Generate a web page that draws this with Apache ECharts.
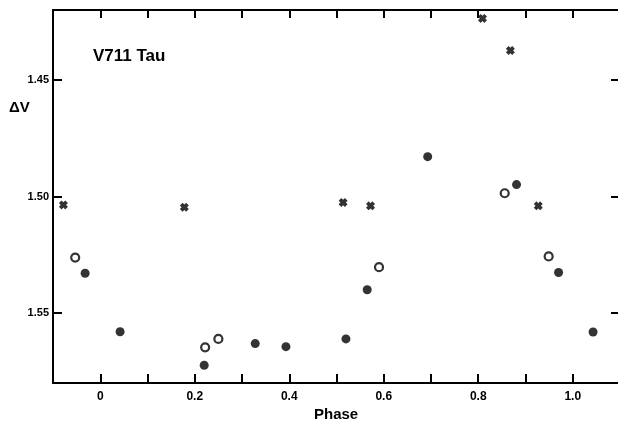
<!DOCTYPE html>
<html>
<head>
<meta charset="utf-8">
<script src="https://cdn.jsdelivr.net/npm/echarts@6/dist/echarts.min.js"></script>
<style>
html,body{margin:0;padding:0;background:#fff;overflow:hidden;}
#c{width:621px;height:427px;}
</style>
</head>
<body>
<div id="c"></div>
<script>
// Data (phase, ΔV)
var crossPhase  = [-0.078, 0.178, 0.514, 0.572, 0.809, 0.868, 0.927];
var crossDV     = [1.5036, 1.5046, 1.5026, 1.5040, 1.4236, 1.4374, 1.5040];
var openPhase   = [-0.053, 0.222, 0.250, 0.590, 0.856, 0.949];
var openDV      = [1.5262, 1.5647, 1.5611, 1.5303, 1.4986, 1.5257];
var filledPhase = [-0.032, 0.042, 0.220, 0.328, 0.393, 0.520, 0.565, 0.693, 0.881, 0.970, 1.043];
var filledDV    = [1.5329, 1.5580, 1.5724, 1.5631, 1.5644, 1.5611, 1.5400, 1.4829, 1.4949, 1.5326, 1.5581];
var xTickValues  = [0, 0.1, 0.2, 0.3, 0.4, 0.5, 0.6, 0.7, 0.8, 0.9, 1.0];
var xLabelValues = [0, 0.2, 0.4, 0.6, 0.8, 1.0];
var yTickValues  = [1.45, 1.50, 1.55];

function pairs(xs, ys){ return xs.map(function(x,i){ return [x, ys[i]]; }); }

var crossPath = 'path://M0,3L3,0L5,2L7,0L10,3L8,5L10,7L7,10L5,8L3,10L0,7L2,5Z';
var FONT = '"Liberation Sans", "DejaVu Sans", sans-serif';

var chart = echarts.init(document.getElementById('c'), null, {renderer:'canvas'});
var axisLineStyle = {color:'#000', width:2};
chart.setOption({
  animation:false,
  backgroundColor:'#fff',
  grid:{left:53, top:10, width:567, height:373, containLabel:false},
  xAxis:[{
    type:'value', position:'bottom', min:-0.1, max:1.1,
    axisLine:{show:true, onZero:false, lineStyle:axisLineStyle},
    axisTick:{show:true, inside:true, length:9, customValues:xTickValues, lineStyle:{color:'#000', width:2}},
    axisLabel:{show:true, customValues:xLabelValues, margin:8, color:'#000', fontFamily:FONT, fontWeight:'bold', fontSize:12,
      formatter:function(v){ return Math.abs(v) < 1e-9 ? '0' : v.toFixed(1); }},
    splitLine:{show:false}
  },{
    type:'value', position:'top', min:-0.1, max:1.1,
    axisLine:{show:true, onZero:false, lineStyle:axisLineStyle},
    axisTick:{show:true, inside:true, length:8, customValues:xTickValues, lineStyle:{color:'#000', width:2}},
    axisLabel:{show:false},
    splitLine:{show:false}
  }],
  yAxis:[{
    type:'value', position:'left', inverse:true, min:1.42, max:1.58,
    axisLine:{show:true, onZero:false, lineStyle:axisLineStyle},
    axisTick:{show:true, inside:true, length:9, customValues:yTickValues, lineStyle:{color:'#000', width:2}},
    axisLabel:{show:true, customValues:yTickValues, margin:4, color:'#000', fontFamily:FONT, fontWeight:'bold', fontSize:11,
      formatter:function(v){ return v.toFixed(2); }},
    splitLine:{show:false}
  },{
    type:'value', position:'right', inverse:true, min:1.42, max:1.58,
    axisLine:{show:false, onZero:false},
    axisTick:{show:true, inside:true, length:9, customValues:yTickValues, lineStyle:{color:'#000', width:2}},
    axisLabel:{show:false},
    splitLine:{show:false}
  }],
  series:[{
    type:'scatter', name:'cross', data:pairs(crossPhase, crossDV),
    symbol:crossPath, symbolSize:9, itemStyle:{color:'#000'}
  },{
    type:'scatter', name:'open', data:pairs(openPhase, openDV),
    symbol:'circle', symbolSize:8, itemStyle:{color:'#fff', borderColor:'#000', borderWidth:2.2}
  },{
    type:'scatter', name:'filled', data:pairs(filledPhase, filledDV),
    symbol:'circle', symbolSize:9, itemStyle:{color:'#000'}
  }],
  graphic:[
    {type:'text', left:93, top:48, style:{text:'V711 Tau', fill:'#000', font:'bold 17px ' + FONT}},
    {type:'text', left:9, top:100, style:{text:'ΔV', fill:'#000', font:'bold 15px ' + FONT}},
    {type:'text', left:314, top:407, style:{text:'Phase', fill:'#000', font:'bold 15px ' + FONT}}
  ]
});
</script>
</body>
</html>
